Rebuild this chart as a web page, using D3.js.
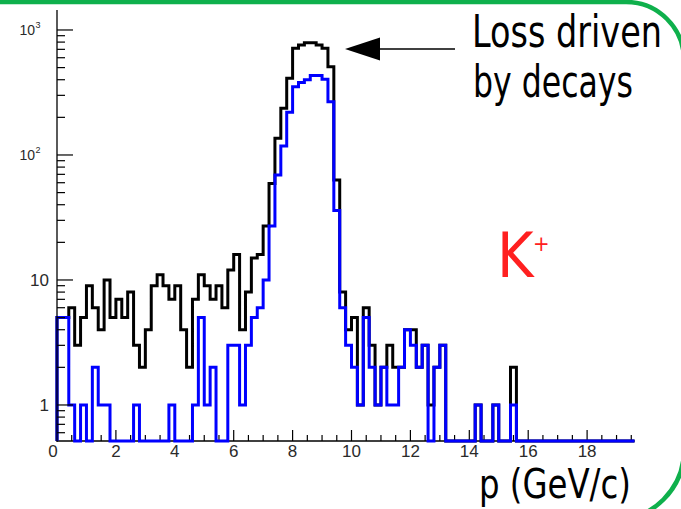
<!DOCTYPE html>
<html><head><meta charset="utf-8">
<script src="https://cdn.jsdelivr.net/npm/d3@7/dist/d3.min.js"></script>
<style>html,body{margin:0;padding:0;background:#fff;overflow:hidden}svg{display:block}</style>
</head><body>
<svg id="chart" width="681" height="509"></svg>
<script>
// ---- data ----
const binWidth = 0.2; // GeV, 100 bins from 0 to 20
const allKaons = [5,5,6,3,5,9,6,4,10,5, 7,5,8,3,2,4,9,11,9,7, 9,4,2,7,11,9,7,9,6,12,
  16,4,8,15,16,27,59,136,236,411, 714,758,790,790,758,714,508,63,8,4,
  5,1,6,3,1,2,3,2,2,4, 4,2,3,1,2,3,0,0,0,0, 0,1,0,0,1,0,0,2,0,0,
  0,0,0,0,0,0,0,0,0,0, 0,0,0,0,0,0,0,0,0,0];
const survivingKaons = [5,5,1,0,1,0,2,1,1,0, 0,0,0,1,0,0,0,0,0,1, 0,0,0,1,5,1,2,0,0,3,
  3,1,3,5,6,10,27,69,118,220, 352,380,400,432,432,403,267,36,6,3,
  2,1,5,2,1,2,1,1,2,4, 3,2,3,0,2,3,0,0,0,0, 0,1,0,0,1,0,0,1,0,0,
  0,0,0,0,0,0,0,0,0,0, 0,0,0,0,0,0,0,0,0,0];
const xTickValues = [0,2,4,6,8,10,12,14,16,18];
const xTickLabels = ["0","2","4","6","8","10","12","14","16","18"];
const yMajorValues = [1,10,100,1000];
const yMajorBase = ["1","10","10","10"];
const yMajorExp  = ["","","2","3"];
const xTitle = "p (GeV/c)";
const noteLines = ["Loss driven","by decays"];
const particle = "K", particleCharge = "+";

// ---- chart ----
const svg = d3.select("#chart");
const x = d3.scaleLinear().domain([0,20]).range([57,646]);
const y = d3.scaleLog().domain([0.515,1445]).range([441,10]);
const bottom = y.range()[0];

svg.append("defs").append("clipPath").attr("id","clipR")
  .append("rect").attr("x",0).attr("y",0).attr("width",634.5).attr("height",509);
const g = svg.append("g").attr("clip-path","url(#clipR)");

function stepPoints(vals){
  const pts = [[x(0), bottom]];
  vals.forEach((v,i)=>{
    const yy = v>0 ? y(v) : bottom;
    pts.push([x(i*binWidth), yy]);
    pts.push([x((i+1)*binWidth), yy]);
  });
  pts.push([x(vals.length*binWidth), bottom]);
  return pts;
}
const line = d3.line();

const axisColor = "#000";
const labelFont = "Liberation Sans, Arial, sans-serif";
// x axis
g.append("line").attr("x1",x(0)).attr("x2",x(20)).attr("y1",bottom).attr("y2",bottom)
  .attr("stroke",axisColor).attr("stroke-width",1.3);
const xMinor = d3.range(0,20.01,0.5);
g.selectAll(".xt").data(xMinor).join("line")
  .attr("x1",d=>x(d)).attr("x2",d=>x(d))
  .attr("y1",bottom).attr("y2",d=> (Math.abs(d/2-Math.round(d/2))<1e-6) ? bottom-11 : bottom-6)
  .attr("stroke",axisColor).attr("stroke-width",1.2);
g.selectAll(".xl").data(xTickValues).join("text")
  .attr("x",(d,i)=>x(d) - (i===0?4:0)).attr("y",457)
  .attr("text-anchor","middle").attr("font-family",labelFont)
  .attr("font-size",17).attr("fill","#2a2a2a")
  .text((d,i)=>xTickLabels[i]);

// y axis
svg.append("line").attr("x1",x(0)).attr("x2",x(0)).attr("y1",10).attr("y2",bottom+1)
  .attr("stroke",axisColor).attr("stroke-width",1.3);
const yMinor = [];
[0.1,1,10,100].forEach(dec=>{ for(let k=2;k<=9;k++){ const v=dec*k; if(v>=y.domain()[0] && v<=y.domain()[1]) yMinor.push(v);} });
svg.selectAll(".ymn").data(yMinor).join("line")
  .attr("x1",x(0)).attr("x2",x(0)+8).attr("y1",d=>y(d)).attr("y2",d=>y(d))
  .attr("stroke",axisColor).attr("stroke-width",1.2);
svg.selectAll(".ymj").data(yMajorValues).join("line")
  .attr("x1",x(0)).attr("x2",x(0)+16).attr("y1",d=>y(d)).attr("y2",d=>y(d))
  .attr("stroke",axisColor).attr("stroke-width",1.2);
yMajorValues.forEach((v,i)=>{
  if(yMajorExp[i]){
    svg.append("text").attr("x",35).attr("y",y(v)+5).attr("text-anchor","end")
      .attr("font-family",labelFont).attr("font-size",14).attr("fill","#2a2a2a")
      .text(yMajorBase[i]);
    svg.append("text").attr("x",35.5).attr("y",y(v)-2).attr("text-anchor","start")
      .attr("font-family",labelFont).attr("font-size",9).attr("fill","#2a2a2a")
      .text(yMajorExp[i]);
  } else {
    svg.append("text").attr("x",49).attr("y",y(v)+6).attr("text-anchor","end")
      .attr("font-family",labelFont).attr("font-size",17).attr("fill","#2a2a2a")
      .text(yMajorBase[i]);
  }
});

// histograms
g.append("path").attr("d",line(stepPoints(allKaons)))
  .attr("fill","none").attr("stroke","#000").attr("stroke-width",3).attr("stroke-linejoin","miter");
g.append("path").attr("d",line(stepPoints(survivingKaons)))
  .attr("fill","none").attr("stroke","#0000ff").attr("stroke-width",3).attr("stroke-linejoin","miter");

// annotations (condensed by horizontal scaling to the reference widths)
const annoFont = "Liberation Sans Narrow, DejaVu Sans Condensed, Arial Narrow, sans-serif";
function fitText(str, x0, y0, size, width, color){
  const gg = svg.append("g");
  const t = gg.append("text").attr("x",0).attr("y",0).attr("font-family",annoFont)
    .attr("font-size",size).attr("fill",color).text(str);
  const w = t.node().getComputedTextLength() || width;
  gg.attr("transform",`translate(${x0},${y0}) scale(${width/w},1)`);
}
fitText(noteLines[0], 472, 47, 44, 190, "#000");
fitText(noteLines[1], 473, 97, 44, 160, "#000");
fitText(xTitle, 479, 498, 40, 152, "#000");
svg.append("text").attr("x",497).attr("y",277).attr("font-family",annoFont).attr("font-size",62)
  .attr("fill","#ff2020").text(particle);
svg.append("text").attr("x",533).attr("y",251).attr("font-family",annoFont).attr("font-size",22)
  .attr("fill","#ff2020").text(particleCharge);

// arrow
svg.append("line").attr("x1",378).attr("x2",455).attr("y1",49).attr("y2",49)
  .attr("stroke","#000").attr("stroke-width",1.3);
svg.append("path").attr("d","M345,49 L380,37.5 L380,60.5 Z").attr("fill","#000");

// green frame
svg.append("path").attr("d","M-10,2 H626 A58,58 0 0 1 684,60 V450 A70,70 0 0 1 614,520 H-10")
  .attr("fill","none").attr("stroke","#0fb04c").attr("stroke-width",4.5);
</script>
</body></html>
